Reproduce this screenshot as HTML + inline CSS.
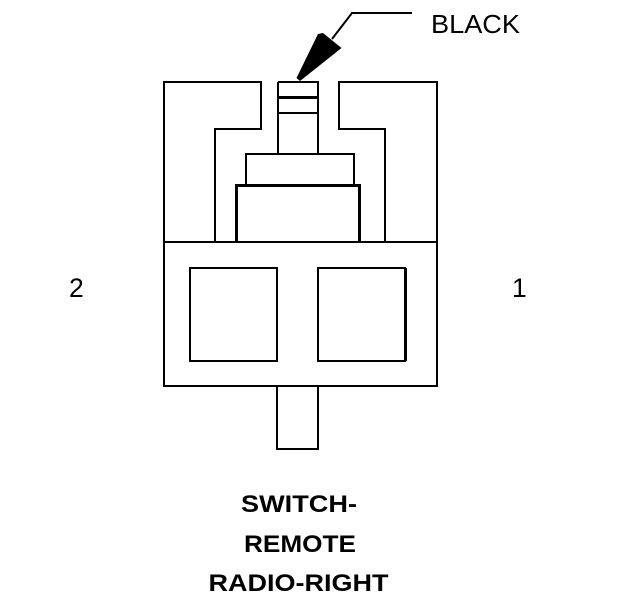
<!DOCTYPE html>
<html>
<head>
<meta charset="utf-8">
<style>
html,body{margin:0;padding:0;background:#fff;width:624px;height:600px;overflow:hidden}
svg{display:block}
text{font-family:"Liberation Sans",sans-serif;fill:#000}
</style>
</head>
<body>
<svg width="624" height="600" viewBox="0 0 624 600" xmlns="http://www.w3.org/2000/svg">
<g fill="none" stroke="#000" stroke-width="2" shape-rendering="crispEdges">
<path d="M164 242V82H261V129H215V242"/>
<path d="M437 242V82H339V129H385V242"/>
<rect x="164" y="242" width="273" height="144"/>
<rect x="190" y="268" width="87" height="93"/>
<rect x="318" y="268" width="87" height="93"/>
<path d="M405.500 268V361" stroke-width="3"/>
<path d="M277 387V449H318V387"/>
<path d="M278 82H318V154M278 82V154"/>
<path d="M278 113H317"/>
<path d="M278 97.500H317" stroke-width="3"/>
<path d="M246 185V154H354V185"/>
<path d="M236.500 242V185.500H359.500V242" stroke-width="3"/>
</g>
<path d="M332 39L352 13H412" fill="none" stroke="#000" stroke-width="2"/>
<path d="M296.500 78L318 34L323 33L341.500 48L300 81Z" fill="#000"/>
<text x="431" y="33" font-size="25.500" textLength="89" lengthAdjust="spacingAndGlyphs">BLACK</text>
<text x="69" y="297" font-size="26.500">2</text>
<text x="512" y="297" font-size="26.500">1</text>
<g font-weight="bold" font-size="24">
<text x="241" y="512" textLength="116" lengthAdjust="spacingAndGlyphs">SWITCH-</text>
<text x="244" y="552" textLength="112" lengthAdjust="spacingAndGlyphs">REMOTE</text>
<text x="208.500" y="591" textLength="180" lengthAdjust="spacingAndGlyphs">RADIO-RIGHT</text>
</g>
</svg>
</body>
</html>
